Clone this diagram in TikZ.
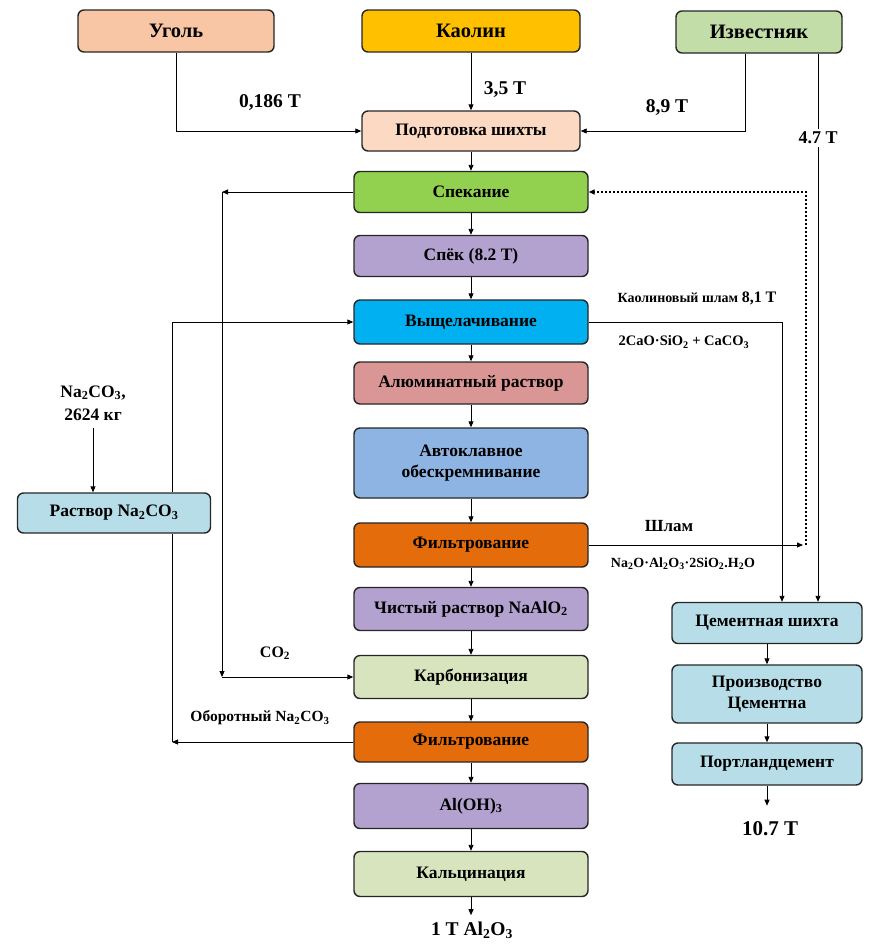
\documentclass[tikz,border=0pt]{standalone}
\usepackage{fontspec}
\setmainfont{Liberation Serif}
\usetikzlibrary{arrows.meta}
\definecolor{cUgol}{HTML}{F8C6A4}
\definecolor{cKaolin}{HTML}{FFC000}
\definecolor{cIzv}{HTML}{C3DDA8}
\definecolor{cPodg}{HTML}{FBD9C2}
\definecolor{cSpek}{HTML}{92D050}
\definecolor{cLav}{HTML}{B3A2CF}
\definecolor{cVysh}{HTML}{00B0F0}
\definecolor{cAlum}{HTML}{D99694}
\definecolor{cAvto}{HTML}{8EB4E3}
\definecolor{cFilt}{HTML}{E46C0A}
\definecolor{cOlive}{HTML}{D7E4BD}
\definecolor{cCyan}{HTML}{B7DEE8}
\begin{document}
\begin{tikzpicture}[x=1pt,y=-1pt,
 box/.style={draw=black!85, line width=1.4pt, rounded corners=6pt, font=\bfseries\fontsize{17.5}{21}\selectfont, align=center, inner sep=0pt},
 topbox/.style={box, font=\bfseries\fontsize{20.5}{24}\selectfont, minimum height=42},
 mainbox/.style={box, minimum width=234, minimum height=42},
 rbox/.style={box, minimum width=190, minimum height=41},
 arr/.style={-{Triangle[length=6pt,width=5pt]}, line width=0.9pt},
 ln/.style={line width=0.9pt},
 dotln/.style={line width=2pt, dash pattern=on 2pt off 2pt},
 lbl/.style={font=\bfseries\fontsize{19.5}{23}\selectfont, inner sep=1pt, align=center},
 slbl/.style={font=\bfseries\fontsize{15}{18}\selectfont, inner sep=1pt},
 tlbl/.style={font=\bfseries\fontsize{14.5}{17}\selectfont, inner sep=1pt}
]
\useasboundingbox (0,0) rectangle (872,946);
% top
\node[topbox, fill=cUgol, minimum width=196] (ugol) at (176,31) {Уголь};
\node[topbox, fill=cKaolin, minimum width=218] (kaolin) at (471,31) {Каолин};
\node[topbox, fill=cIzv, minimum width=166] (izv) at (759,32) {Известняк};
\node[box, fill=cPodg, minimum width=218, minimum height=40] (podg) at (471,131) {Подготовка шихты};
% main column
\node[mainbox, fill=cSpek, minimum height=41] (spek) at (471,192) {Спекание};
\node[mainbox, fill=cLav, minimum height=41] (spyok) at (471,256) {Спёк (8.2 Т)};
\node[mainbox, fill=cVysh, minimum height=44] (vysh) at (471,322) {Выщелачивание};
\node[mainbox, fill=cAlum] (alum) at (471,383) {Алюминатный раствор};
\node[mainbox, fill=cAvto, minimum height=70] (avto) at (471,463) {Автоклавное\\обескремнивание};
\node[mainbox, fill=cFilt, minimum height=44] (filt1) at (471,545) {Фильтрование};
\node[mainbox, fill=cLav, minimum height=43] (chist) at (471,609) {Чистый раствор NaAlO\textsubscript{2}};
\node[mainbox, fill=cOlive, minimum height=43] (karb) at (471,677) {Карбонизация};
\node[mainbox, fill=cFilt, minimum height=40] (filt2) at (471,742) {Фильтрование};
\node[mainbox, fill=cLav, minimum height=45] (aloh) at (471,806) {Al(OH)\textsubscript{3}};
\node[mainbox, fill=cOlive, minimum height=45] (kalc) at (471,874) {Кальцинация};
\node[lbl] (al2o3) at (472,930) {1 T Al\textsubscript{2}O\textsubscript{3}};
% left
\node[box, fill=cCyan, minimum width=193, minimum height=40] (rastvor) at (114,513) {Раствор Na\textsubscript{2}CO\textsubscript{3}};
\node[lbl, font=\bfseries\fontsize{17.5}{23}\selectfont] (na) at (93,403) {Na\textsubscript{2}CO\textsubscript{3},\\2624 кг};
% right
\node[rbox, fill=cCyan] (cshixta) at (767,623) {Цементная шихта};
\node[rbox, fill=cCyan, minimum height=58] (proizv) at (767,694) {Производство\\Цементна};
\node[rbox, fill=cCyan, minimum height=42] (portl) at (767,764) {Портландцемент};
\node[lbl, font=\bfseries\fontsize{21}{24}\selectfont] (out10) at (770,829) {10.7 Т};
% helper coordinates
\coordinate (x745) at (745,0);
\coordinate (x818) at (818,0);
\coordinate (x782) at (782,0);
\coordinate (x803) at (803,0);
\coordinate (x806) at (806,0);
\coordinate (x222) at (222,0);
\coordinate (x172) at (172,0);
% top connectors
\draw[arr] (ugol.south) |- (podg.west);
\draw[arr] (kaolin) -- (podg);
\draw[arr] (izv.south -| x745) |- (podg.east);
\draw[arr] (izv.south -| x818) -- (cshixta.north -| x818);
\node[lbl, fill=white, inner sep=3pt, font=\bfseries\fontsize{18}{21}\selectfont] (l47) at (818,138) {4.7 Т};
\node[lbl] (l0186) at (270,103) {0,186 Т};
\node[lbl] (l35) at (505,90) {3,5 Т};
\node[lbl] (l89) at (667,108) {8,9 Т};
% main vertical arrows
\foreach \a/\b in {podg/spek, spek/spyok, spyok/vysh, vysh/alum, alum/avto, avto/filt1, filt1/chist, chist/karb, karb/filt2, filt2/aloh, aloh/kalc}
  \draw[arr] (\a.south) -- (\b.north);
\draw[arr] (kalc.south) -- ++(0,18);
% right chain
\draw[arr] (cshixta) -- (proizv);
\draw[arr] (proizv) -- (portl);
\draw[arr] (portl.south) -- ++(0,20);
% kaolin sludge
\draw[arr] (vysh.east) -| (cshixta.north -| x782);
\node[slbl] (lks) at (697,298) {\fontsize{14}{17}\selectfont Каолиновый шлам \fontsize{16}{18}\selectfont 8,1 Т};
\node[tlbl] (lcao) at (684,342) {2CaO·SiO\textsubscript{2} + CaCO\textsubscript{3}};
% slam
\draw[arr] (filt1.east) -- (filt1.east -| x803);
\draw[dotln, -{Triangle[length=6pt,width=5pt]}] (filt1.east -| x806) |- (spek.east);
\node[slbl, font=\bfseries\fontsize{17}{19}\selectfont] (lslam) at (669,526) {Шлам};
\node[tlbl, font=\bfseries\fontsize{14}{17}\selectfont] (lna2o) at (683,564) {Na\textsubscript{2}O·Al\textsubscript{2}O\textsubscript{3}·2SiO\textsubscript{2}.H\textsubscript{2}O};
% CO2 loop
\draw[arr] (spek.west) -- (spek.west -| x222);
\draw[arr] (spek.west -| x222) -- (karb.west -| x222);
\draw[arr] (karb.west -| x222) -- (karb.west);
\node[lbl, font=\bfseries\fontsize{16}{18}\selectfont] (lco2) at (275,653) {CO\textsubscript{2}};
% Na2CO3 loop
\draw[arr] (filt2.west) -- (filt2.west -| x172);
\draw[ln] (filt2.west -| x172) -- (rastvor.south -| x172);
\draw[arr] (rastvor.north -| x172) |- (vysh.west);
\node[slbl, font=\bfseries\fontsize{15.5}{18}\selectfont] (lobor) at (260,718) {Оборотный Na\textsubscript{2}CO\textsubscript{3}};
\draw[arr] ([yshift=-6pt]na.south) -- (na.south |- rastvor.north);
\end{tikzpicture}
\end{document}
